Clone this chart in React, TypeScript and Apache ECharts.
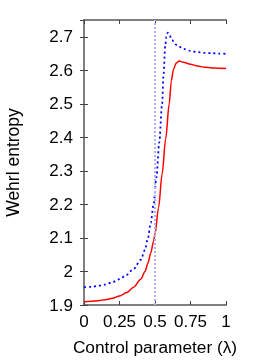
import React, { useEffect, useRef } from "react";
import * as echarts from "echarts";

const redX = [0, 0.05, 0.1, 0.15, 0.2, 0.25, 0.3, 0.35, 0.4, 0.43, 0.45, 0.47, 0.49, 0.5, 0.525, 0.55, 0.575, 0.6, 0.615, 0.63, 0.65, 0.67, 0.7, 0.75, 0.8, 0.85, 0.9, 0.95, 1];
const redY = [1.91, 1.911, 1.913, 1.916, 1.92, 1.927, 1.937, 1.953, 1.977, 2.0, 2.025, 2.055, 2.09, 2.112, 2.19, 2.29, 2.395, 2.5, 2.568, 2.603, 2.622, 2.628, 2.624, 2.618, 2.613, 2.609, 2.607, 2.606, 2.605];

const blueX = [0, 0.05, 0.1, 0.15, 0.2, 0.25, 0.3, 0.35, 0.4, 0.43, 0.45, 0.47, 0.49, 0.51, 0.53, 0.55, 0.56, 0.572, 0.58, 0.59, 0.6, 0.62, 0.65, 0.7, 0.75, 0.8, 0.85, 0.9, 0.95, 1];
const blueY = [1.953, 1.954, 1.957, 1.961, 1.968, 1.977, 1.99, 2.008, 2.035, 2.065, 2.1, 2.145, 2.2, 2.28, 2.385, 2.5, 2.585, 2.672, 2.7, 2.712, 2.706, 2.69, 2.676, 2.664, 2.658, 2.654, 2.652, 2.651, 2.65, 2.649];

const criticalX = 0.5;
const xTitle = "Control parameter (λ)";
const yTitle = "Wehrl entropy";

const FONT = "Liberation Sans";

export default function App() {
  const ref = useRef<HTMLDivElement>(null);
  useEffect(() => {
    const chart = echarts.init(ref.current!, undefined, { renderer: "svg" });
    const frame = { show: true, lineStyle: { color: "#808080", width: 2 } };
    const tick = { show: true, inside: true, length: 4, lineStyle: { color: "#444", width: 1 } };
    const xBase = { type: "value" as const, min: 0, max: 1, interval: 0.25, splitLine: { show: false }, axisLine: frame, axisTick: tick };
    const yBase = { type: "value" as const, min: 1.9, max: 2.75, interval: 0.1, splitLine: { show: false }, axisLine: frame, axisTick: tick };
    chart.setOption({
      animation: false,
      grid: { left: 84, right: 31, top: 20, bottom: 55, containLabel: false, outerBoundsMode: "none" },
      xAxis: [
        {
          ...xBase,
          position: "bottom",
          name: xTitle,
          nameLocation: "middle",
          nameGap: 33,
          nameTextStyle: { fontFamily: FONT, fontSize: 17.3, color: "#000" },
          axisLabel: {
            margin: 8,
            fontFamily: FONT,
            fontSize: 17,
            color: "#000",
            formatter: (v: number) => String(Number(v.toFixed(2))),
          },
        },
        { ...xBase, position: "top", axisLabel: { show: false } },
      ],
      yAxis: [
        {
          ...yBase,
          position: "left",
          name: yTitle,
          nameLocation: "middle",
          nameGap: 62,
          nameTextStyle: { fontFamily: FONT, fontSize: 17.5, color: "#000" },
          axisLabel: {
            margin: 11,
            fontFamily: FONT,
            fontSize: 17,
            color: "#000",
            showMaxLabel: false,
            formatter: (v: number) => {
              const r = Math.round(v * 10) / 10;
              if (Math.abs(r - v) > 1e-6) return "";
              return String(Number(r.toFixed(1)));
            },
          },
        },
        { ...yBase, position: "right", axisLabel: { show: false } },
      ],
      series: [
        {
          type: "line",
          xAxisIndex: 0,
          yAxisIndex: 0,
          data: redX.map((x, i) => [x, redY[i]]),
          showSymbol: false,
          smooth: 0.3,
          smoothMonotone: "x",
          lineStyle: { color: "#ff0000", width: 1.5 },
          markLine: {
            silent: true,
            symbol: "none",
            label: { show: false },
            lineStyle: { color: "#b0b0ff", type: [2, 2], width: 2 },
            data: [{ xAxis: criticalX }],
          },
        },
        {
          type: "line",
          xAxisIndex: 0,
          yAxisIndex: 0,
          data: blueX.map((x, i) => [x, blueY[i]]),
          showSymbol: false,
          smooth: 0.3,
          smoothMonotone: "x",
          lineStyle: { color: "#0000ff", width: 1.8, type: [2, 3] },
        },
      ],
    });
    return () => chart.dispose();
  }, []);
  return <div ref={ref} style={{ position: "fixed", left: 0, top: 0, width: 257, height: 360 }} />;
}
